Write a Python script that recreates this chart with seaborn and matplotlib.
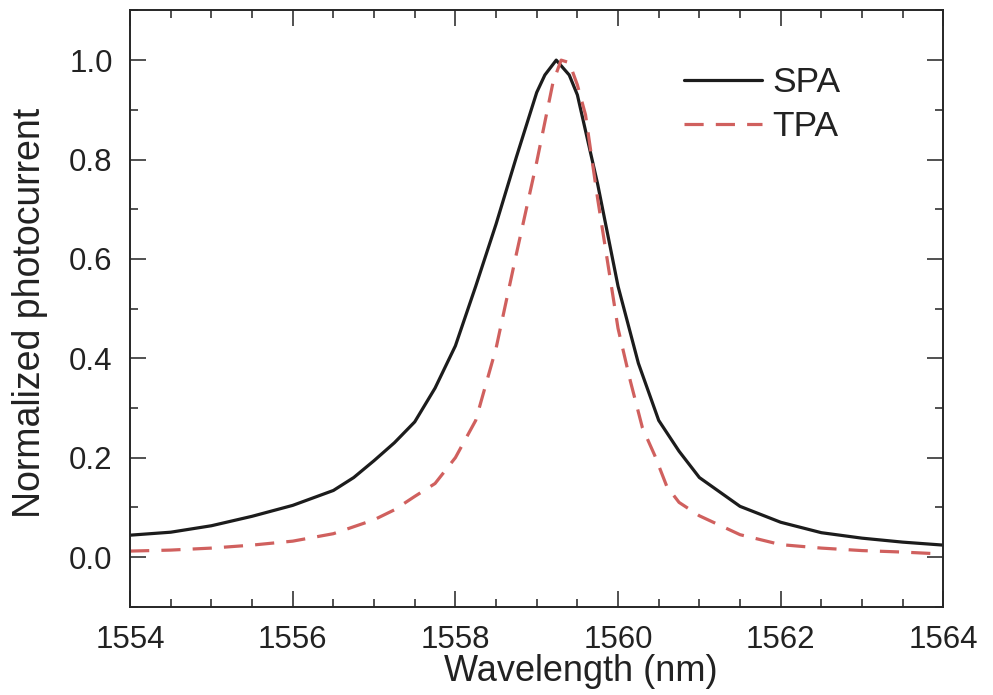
import numpy as np
import pandas as pd
import seaborn as sns
import matplotlib
matplotlib.use("Agg")
import matplotlib.pyplot as plt
from matplotlib import ticker

# values
spa_wl = [1554.0, 1554.5, 1555.0, 1555.5, 1556.0, 1556.5, 1556.75, 1557.0, 1557.25, 1557.5,
          1557.75, 1558.0, 1558.25, 1558.5, 1558.75, 1559.0, 1559.1, 1559.24, 1559.4,
          1559.5, 1559.75, 1560.0, 1560.25, 1560.5, 1560.75, 1561.0, 1561.5, 1562.0,
          1562.5, 1563.0, 1563.5, 1564.0]
spa_pc = [0.044, 0.050, 0.063, 0.082, 0.104, 0.134, 0.160, 0.194, 0.230, 0.272,
          0.340, 0.425, 0.545, 0.670, 0.805, 0.935, 0.970, 1.000, 0.970,
          0.930, 0.750, 0.545, 0.390, 0.275, 0.213, 0.160, 0.102, 0.070,
          0.049, 0.038, 0.030, 0.024]

tpa_wl = [1554.0, 1554.5, 1555.0, 1555.5, 1556.0, 1556.5, 1557.0, 1557.25, 1557.5,
          1557.75, 1558.0, 1558.25, 1558.5, 1558.75, 1559.0, 1559.1, 1559.2, 1559.3,
          1559.4, 1559.5, 1559.6, 1559.75, 1560.0, 1560.15, 1560.3, 1560.45, 1560.6,
          1560.75, 1561.0, 1561.5, 1562.0, 1562.5, 1563.0, 1563.5, 1564.0]
tpa_pc = [0.012, 0.014, 0.018, 0.024, 0.032, 0.047, 0.075, 0.095, 0.122,
          0.148, 0.200, 0.275, 0.420, 0.610, 0.795, 0.875, 0.955, 1.000,
          0.995, 0.950, 0.890, 0.720, 0.460, 0.355, 0.260, 0.205, 0.142,
          0.110, 0.083, 0.045, 0.025, 0.018, 0.013, 0.010, 0.006]

x_ticks = [1554, 1556, 1558, 1560, 1562, 1564]
y_ticks = [0.0, 0.2, 0.4, 0.6, 0.8, 1.0]

spa = pd.DataFrame({"wl": spa_wl, "pc": spa_pc})
tpa = pd.DataFrame({"wl": tpa_wl, "pc": tpa_pc})

sns.set_style("ticks")
plt.rcParams['font.family'] = ['Liberation Sans', 'DejaVu Sans']
plt.rcParams['axes.linewidth'] = 1.4

fig = plt.figure(figsize=(9.93, 6.95), dpi=100)
ax = fig.add_axes([0.131, 0.127, 0.819, 0.858])

sns.lineplot(data=spa, x="wl", y="pc", ax=ax, color="#1c1c1c", linewidth=2.3, label="SPA")
sns.lineplot(data=tpa, x="wl", y="pc", ax=ax, color="#d0605e", linewidth=2.3, label="TPA")
ax.lines[1].set_dashes((6, 3.8))

ax.set_xlim(1554, 1564)
ax.set_ylim(-0.1, 1.1)
ax.set_xticks(x_ticks)
ax.set_yticks(y_ticks)
ax.xaxis.set_minor_locator(ticker.MultipleLocator(0.5))
ax.yaxis.set_minor_locator(ticker.MultipleLocator(0.1))
ax.yaxis.set_major_formatter(ticker.FormatStrFormatter('%.1f'))

ax.tick_params(which='both', direction='in', top=True, right=True, width=1.1, color='#222222')
ax.tick_params(which='major', length=11.5)
ax.tick_params(which='minor', length=6)
ax.tick_params(axis='x', which='major', labelsize=22.5, pad=13, labelcolor='#222222')
ax.tick_params(axis='y', which='major', labelsize=22.5, pad=12.5, labelcolor='#222222')

ax.set_xlabel("Wavelength (nm)", fontsize=26, color='#222222')
ax.set_ylabel("Normalized photocurrent", fontsize=27, color='#222222')
ax.xaxis.set_label_coords(0.554, -0.079)
ax.yaxis.set_label_coords(-0.1005, 0.493)

leg = ax.legend(loc='upper left', bbox_to_anchor=(0.681, 0.906), frameon=False,
                fontsize=25.5, handlelength=2.2, handletextpad=0.3, labelspacing=0.3,
                borderpad=0, borderaxespad=0)
for t in leg.get_texts():
    t.set_color('#222222')

plt.savefig('out.png', dpi=100)
